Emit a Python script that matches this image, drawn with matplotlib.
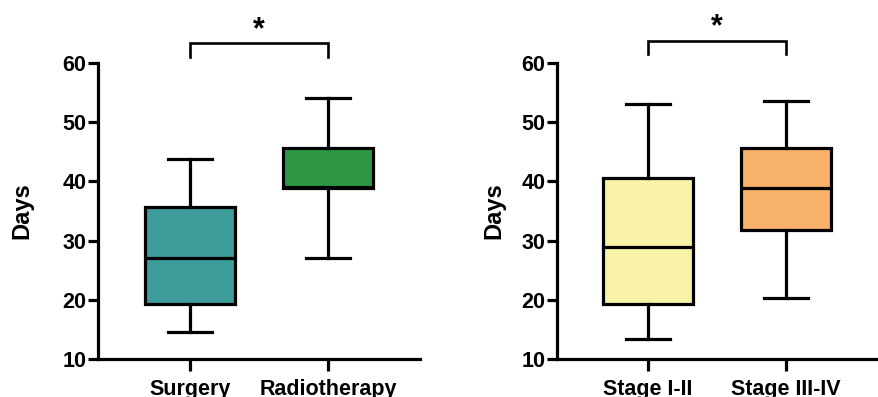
import matplotlib.pyplot as plt

plt.rcParams['font.family'] = ['Liberation Sans', 'DejaVu Sans']
plt.rcParams['font.weight'] = 'bold'

# left panel: treatment
treat_labels = ['Surgery', 'Radiotherapy']
treat_whislo = [14.5, 27.0]
treat_q1 = [19.3, 38.9]
treat_med = [27.0, 39.1]
treat_q3 = [35.7, 45.7]
treat_whishi = [43.8, 54.1]
treat_colors = ['#3d9b9a', '#2f9845']

# right panel: stage
stage_labels = ['Stage I-II', 'Stage III-IV']
stage_whislo = [13.3, 20.3]
stage_q1 = [19.3, 31.8]
stage_med = [29.0, 38.9]
stage_q3 = [40.6, 45.7]
stage_whishi = [53.0, 53.6]
stage_colors = ['#f8f3a7', '#f7b168']

yticks = [10, 20, 30, 40, 50, 60]
lw = 2.3


def panel(ax, labels, lo, q1, med, q3, hi, colors, xlim, bracket, star_y, label_x):
    stats = []
    for i in range(len(labels)):
        stats.append(dict(label=labels[i], whislo=lo[i], q1=q1[i], med=med[i],
                          q3=q3[i], whishi=hi[i], fliers=[]))
    bp = ax.bxp(stats, positions=[1, 2], widths=0.65, patch_artist=True,
                showfliers=False,
                boxprops=dict(linewidth=lw, edgecolor='black'),
                medianprops=dict(color='black', linewidth=lw),
                whiskerprops=dict(color='black', linewidth=lw),
                capprops=dict(color='black', linewidth=lw))
    for patch, c in zip(bp['boxes'], colors):
        patch.set_facecolor(c)

    ax.set_xlim(*xlim)
    ax.set_ylim(10, 60)
    ax.set_yticks(yticks)
    ax.spines['top'].set_visible(False)
    ax.spines['right'].set_visible(False)
    ax.spines['left'].set_linewidth(lw)
    ax.spines['bottom'].set_linewidth(lw)
    ax.tick_params(axis='y', length=7, width=lw, pad=1.5, labelsize=15.5)
    ax.tick_params(axis='x', length=8.5, width=lw, pad=6, labelsize=15.5)
    for t in ax.get_xticklabels() + ax.get_yticklabels():
        t.set_fontweight('bold')
    ax.set_ylabel('Days', fontsize=17, fontweight='bold')
    ax.yaxis.set_label_coords(label_x, 0.5)

    b0, b1 = bracket
    ax.plot([1, 1, 2, 2], [b0, b1, b1, b0], color='black', linewidth=1.9,
            clip_on=False, solid_joinstyle='miter')
    ax.text(1.5, star_y, '*', ha='center', va='center', fontsize=22,
            fontweight='bold', clip_on=False)


fig = plt.figure(figsize=(8.79, 3.97), dpi=100)
ax1 = fig.add_axes([98 / 879, 38 / 397, 322 / 879, 296 / 397])
ax2 = fig.add_axes([557 / 879, 38 / 397, 321 / 879, 296 / 397])

panel(ax1, treat_labels, treat_whislo, treat_q1, treat_med, treat_q3, treat_whishi,
      treat_colors, (0.333, 2.667), (61.0, 63.4), 65.6, -0.202)
panel(ax2, stage_labels, stage_whislo, stage_q1, stage_med, stage_q3, stage_whishi,
      stage_colors, (0.34, 2.667), (61.5, 63.8), 66.1, -0.162)

fig.savefig('out.png', dpi=100)
